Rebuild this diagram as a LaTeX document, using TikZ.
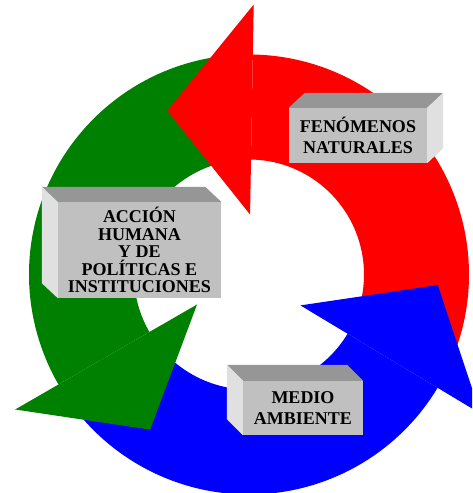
\documentclass[tikz,border=0pt]{standalone}
\usepackage{fontspec}
\setmainfont{Liberation Serif}
\usetikzlibrary{calc}
\definecolor{ringred}{RGB}{255,0,0}
\definecolor{ringgreen}{RGB}{0,128,0}
\definecolor{ringblue}{RGB}{0,0,255}
\definecolor{facegray}{RGB}{192,192,192}
\definecolor{topgray}{RGB}{150,150,150}
\definecolor{sidegray}{RGB}{224,224,224}
\newcommand\arrbody[3]{\fill[#1] (#2:220) arc[start angle=#2, end angle=#3, radius=220] -- (#3:115) arc[start angle=#3, end angle=#2, radius=115] -- cycle;}
\newcommand\arrhead[4]{\fill[#1] (#2:270) -- (#3:#4) -- (#2:60) -- cycle;}
\begin{document}
\begin{tikzpicture}[x=1pt,y=1pt,
  face/.style={fill=facegray, inner sep=0pt, align=center, font=\bfseries\fontsize{18}{21}\selectfont},
  topface/.style={fill=topgray},
  sideface/.style={fill=sidegray}]
\useasboundingbox (0,0) rectangle (472,493);
\clip (0,0) rectangle (472,493);
\begin{scope}[shift={(249,218.5)}]
  % arrow bodies
  \arrbody{ringred}{-26}{89}
  \arrbody{ringgreen}{94}{210}
  \arrbody{ringblue}{215}{329}
  % arrow heads
  \arrhead{ringred}{89}{116.5}{183}
  \arrhead{ringgreen}{210}{237.5}{184}
  \arrhead{ringblue}{329}{356.8}{189}
\end{scope}
% FENOMENOS box
\node[face, minimum width=138pt, minimum height=55pt] (fen) at (358,357.5) {FENÓMENOS\\NATURALES};
\fill[topface] (fen.north west) -- ++(16,15) -- ($(fen.north east)+(16,15)$) -- (fen.north east) -- cycle;
\fill[sideface] (fen.north east) -- ++(16,15) -- ($(fen.south east)+(16,15)$) -- (fen.south east) -- cycle;
% ACCION box
\node[face, minimum width=163pt, minimum height=96pt, font=\bfseries\fontsize{18}{17.5}\selectfont] (acc) at (139.5,243) {ACCIÓN\\HUMANA\\Y DE\\POLÍTICAS E\\INSTITUCIONES};
\fill[topface] (acc.north west) -- ++(-16,15) -- ($(acc.north east)+(-16,15)$) -- (acc.north east) -- cycle;
\fill[sideface] (acc.north west) -- ++(-16,15) -- ($(acc.south west)+(-16,15)$) -- (acc.south west) -- cycle;
% MEDIO box
\node[face, minimum width=120pt, minimum height=54pt] (med) at (303,85) {MEDIO\\AMBIENTE};
\fill[topface] (med.north west) -- ++(-16,16) -- ($(med.north east)+(-16,16)$) -- (med.north east) -- cycle;
\fill[sideface] (med.north west) -- ++(-16,16) -- ($(med.south west)+(-16,16)$) -- (med.south west) -- cycle;
\end{tikzpicture}
\end{document}
